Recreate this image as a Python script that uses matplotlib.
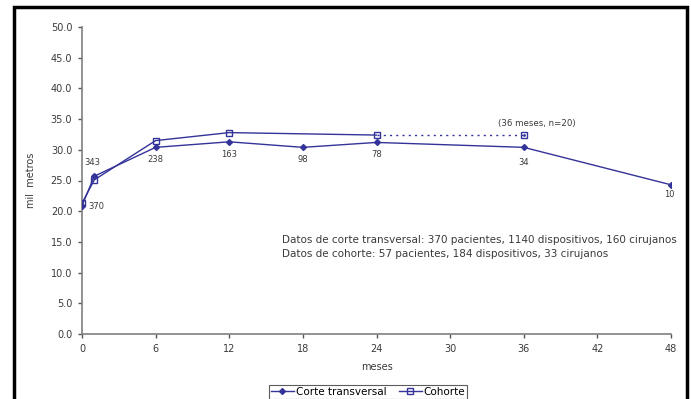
import matplotlib.pyplot as plt
from matplotlib.patches import Rectangle

plt.rcParams['font.family'] = ['DejaVu Sans']

# series data
meses_ct = [0, 1, 6, 12, 18, 24, 36, 48]
valores_ct = [20.9, 25.7, 30.4, 31.3, 30.4, 31.2, 30.4, 24.3]
n_ct = ['370', '343', '238', '163', '98', '78', '34', '10']

meses_coh = [0, 1, 6, 12, 24]
valores_coh = [21.3, 25.1, 31.5, 32.8, 32.4]
mes_coh_36 = 36
valor_coh_36 = 32.4

color = '#333399'
txt = '#3a3a3a'

fig = plt.figure(figsize=(6.91, 3.99), dpi=100)
ax = fig.add_axes([82 / 691, 65 / 399, 589 / 691, 307 / 399])

ax.plot(meses_ct, valores_ct, color=color, lw=1, marker='D', ms=3,
        mfc=color, mec=color, label='Corte transversal', zorder=3)
ax.plot(meses_coh, valores_coh, color=color, lw=1, marker='s', ms=4,
        mfc='none', mec=color, mew=1, label='Cohorte', zorder=3)
ax.plot([meses_coh[-1], mes_coh_36], [valores_coh[-1], valor_coh_36],
        color=color, lw=1, ls=(0, (1.5, 3)), marker='s', ms=4, mfc='none',
        mec=color, markevery=[1], zorder=3)
ax.plot([mes_coh_36], [valor_coh_36], marker='.', ms=2, color=color, zorder=4)

# sample sizes next to the points (offsets in data units)
offsets = {0: (0.55, -0.2), 1: (-0.15, 2.3), 36: (0, -2.4), 48: (-0.15, -1.5)}
for x, y, n in zip(meses_ct, valores_ct, n_ct):
    dx, dy = offsets.get(x, (0, -2.0))
    ax.text(x + dx, y + dy, n, fontsize=6, color=txt,
            ha='left' if x == 0 else 'center', va='center')

ax.text(mes_coh_36 + 1.1, valor_coh_36 + 1.9, '(36 meses, n=20)',
        fontsize=6.2, color=txt, ha='center', va='center')

ax.text(16.3, 15.3, 'Datos de corte transversal: 370 pacientes, 1140 dispositivos, 160 cirujanos',
        fontsize=7.5, color=txt, va='center')
ax.text(16.3, 13.0, 'Datos de cohorte: 57 pacientes, 184 dispositivos, 33 cirujanos',
        fontsize=7.5, color=txt, va='center')

ax.set_xlim(0, 48)
ax.set_ylim(0, 50)
ax.set_xticks(range(0, 49, 6))
ax.set_yticks(range(0, 51, 5))
ax.set_yticklabels([f'{v:.1f}' for v in range(0, 51, 5)])
ax.tick_params(direction='out', length=3, width=1, color='#555555',
               labelsize=7, labelcolor=txt, pad=4)
for side in ('top', 'right'):
    ax.spines[side].set_visible(False)
for side in ('left', 'bottom'):
    ax.spines[side].set_color('#808080')
    ax.spines[side].set_linewidth(1.2)

ax.set_xlabel('meses', fontsize=7, color=txt, labelpad=6)
ax.set_ylabel('mil  metros', fontsize=7, color=txt)
ax.yaxis.set_label_coords(-46 / 589, 0.5)

leg = fig.legend(loc='lower center', bbox_to_anchor=(368 / 691, 0 / 399),
                 ncol=2, fontsize=7.5, frameon=True, fancybox=False,
                 handlelength=2.2, handletextpad=0.2, columnspacing=1.2,
                 borderpad=0.2, borderaxespad=0)
leg.get_frame().set_edgecolor('#333333')
leg.get_frame().set_linewidth(0.8)

# outer chart border
fig.patches.append(Rectangle((14 / 691, -0.05), 673 / 691, 1.0 - 7 / 399 + 0.05,
                             transform=fig.transFigure, fill=False,
                             edgecolor='black', lw=2.5))

fig.savefig('out.png', dpi=100)
